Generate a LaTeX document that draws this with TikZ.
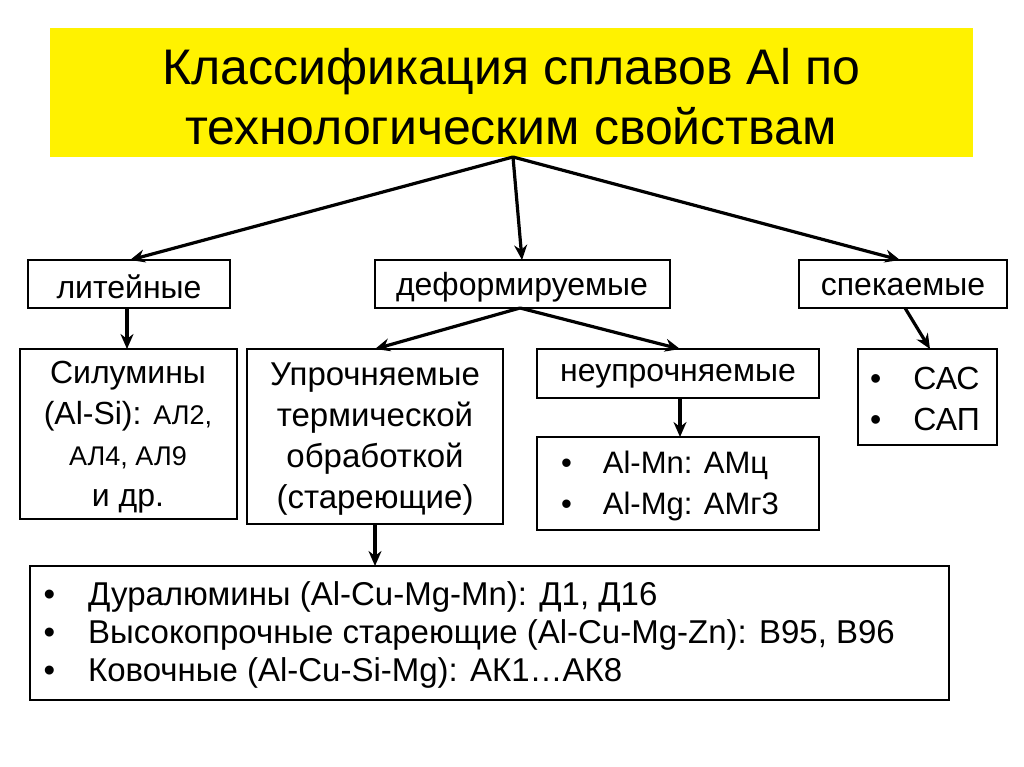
\documentclass[tikz,border=0pt]{standalone}
\usepackage{fontspec}
\setmainfont{Liberation Sans}
\usetikzlibrary{arrows.meta}
\begin{document}
\begin{tikzpicture}[x=1pt,y=-1pt,
  bx/.style={draw,line width=1.5pt,inner sep=0pt},
  arr/.style={line width=3.2pt,-{Stealth[length=15pt,width=13pt]}},
  t/.style={font=\fontsize{32}{41}\selectfont,align=center}]
\useasboundingbox (0,0) rectangle (1024,767);
\fill[yellow] (50,28) rectangle (973,157);
\node[font=\fontsize{50}{60}\selectfont,align=center] (title) at (511,97) {Классификация сплавов Al по\\технологическим свойствам};
\coordinate (ts) at (513,157);
\draw[bx] (28,260) rectangle (230,308); \node[t] (lit) at (129,287) {литейные};
\draw[bx] (375,260) rectangle (670,308); \node[t] (def) at (522,287) {деформируемые};
\draw[bx] (799,260) rectangle (1007,308); \node[t] (spek) at (903,287) {спекаемые};
\draw[bx] (20,349) rectangle (237,519); \node[t] (sil) at (128,437) {Силумины\\(Al-Si): {\fontsize{27}{41}\selectfont АЛ2,}\\{\fontsize{27}{41}\selectfont АЛ4, АЛ9}\\и др.};
\draw[bx] (247,349) rectangle (503,524); \node[t,font=\fontsize{33}{41}\selectfont] (upr) at (375,439) {Упрочняемые\\термической\\обработкой\\(стареющие)};
\draw[bx] (537,349) rectangle (819,398); \node[t] (neupr) at (678,376) {неупрочняемые};
\draw[bx] (537,437) rectangle (819,530); \node[t,align=left,font=\fontsize{31}{41}\selectfont] (almn) at (670,486) {•\quad Al-Mn: АМц\\•\quad Al-Mg: АМг3};
\draw[bx] (858,349) rectangle (997,445); \node[t,align=left] (sas) at (925,399) {•\quad САС\\•\quad САП};
\draw[bx] (30,566) rectangle (949,700); \node[t,align=left,font=\fontsize{33}{38}\selectfont,anchor=west] (dur) at (40,635) {•\quad Дуралюмины (Al-Cu-Mg-Mn): Д1, Д16\\•\quad Высокопрочные стареющие (Al-Cu-Mg-Zn): В95, В96\\•\quad Ковочные (Al-Cu-Si-Mg): АК1…АК8};
\draw[arr] (ts) -- (130,260);
\draw[arr] (ts) -- (522,260);
\draw[arr] (ts) -- (900,260);
\draw[arr] (127,308) -- (127,349);
\coordinate (ds) at (520,308);
\draw[arr] (ds) -- (375,349);
\draw[arr] (ds) -- (680,349);
\draw[arr] (905,308) -- (930,349);
\draw[arr] (680,398) -- (680,437);
\draw[arr] (375,524) -- (375,566);
\end{tikzpicture}
\end{document}
